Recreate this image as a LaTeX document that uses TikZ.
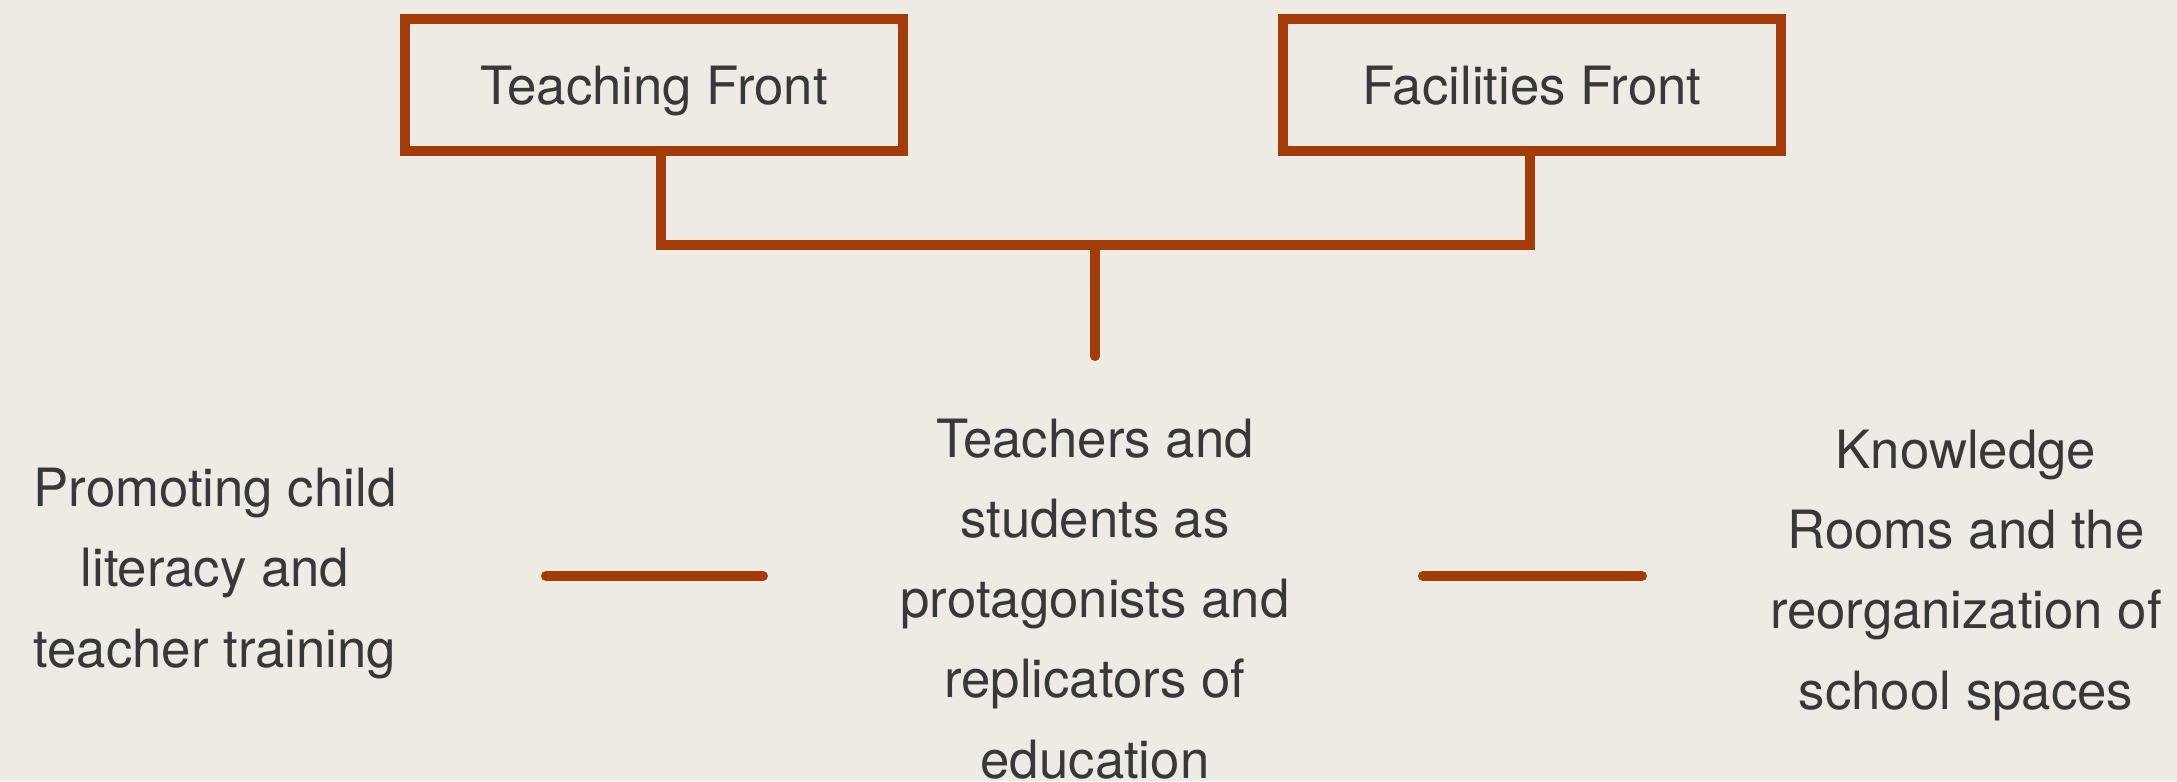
\documentclass[tikz,border=0pt]{standalone}
\usepackage{fontspec}
\setmainfont{TeX Gyre Heros}
\definecolor{rust}{HTML}{A33C08}
\definecolor{paper}{HTML}{EDEBE4}
\definecolor{ink}{HTML}{383838}

\begin{document}
\begin{tikzpicture}[x=0.01cm, y=-0.01cm,
  every node/.style={text=ink, font=\fontsize{15}{22.76}\selectfont},
  front/.style={draw=rust, line width=0.1cm, minimum width=4.97cm, minimum height=1.31cm, inner sep=0pt, text depth=0pt},
  txt/.style={align=center, anchor=base},
  link/.style={draw=rust, line width=0.1cm}]
	 \fill[paper] (0,0) rectangle (2177,781);
	 \useasboundingbox (0,0) rectangle (2177,781);
	 \node[front] (tf)at(654,85) {Teaching Front};
	 \node[front] (ff)at(1532,85) {Facilities Front};
	 % base anchor = last line
	 \node[txt] (lit)at(215,667) {Promoting child\\literacy and\\teacher training};
	 \node[txt] (prot)at(1095,778) {Teachers and\\students as\\protagonists and\\replicators of\\education};
	 \node[txt] (rooms)at(1966,709) {Knowledge\\Rooms and the\\reorganization of\\school spaces};
	 \coordinate (tstem)at(661,150);
	 \coordinate (fstem)at(1530,150);
	 \coordinate (join)at(1095,245);
	 \coordinate (tip)at(1095,356);
	 \coordinate (l1)at(546,576);
	 \coordinate (l2)at(763,576);
	 \coordinate (r1)at(1423,576);
	 \coordinate (r2)at(1642,576);
	 \draw[link] (tstem) |- (join) -| (fstem);
	 \draw[link, line cap=round] (join) -- (tip);
	 \draw[link, line cap=round] (l1) -- (l2);
	 \draw[link, line cap=round] (r1) -- (r2);
\end{tikzpicture}
\end{document}
